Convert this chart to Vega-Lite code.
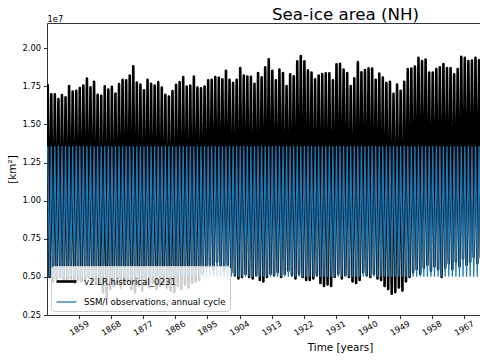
{
"$schema": "https://vega.github.io/schema/vega-lite/v6.json",
"width": 433, "height": 292,
"autosize": {"type": "none"},
"padding": {"left": 47, "top": 23, "right": 0, "bottom": 45},
"background": "white",
"config": {
 "font": "DejaVu Sans",
 "view": {"stroke": null},
 "axis": {"domainColor": "black", "domainWidth": 0.8, "tickColor": "black", "tickWidth": 0.8, "tickSize": 3.5, "labelColor": "black", "labelFontSize": 8.3, "titleColor": "black", "titleFontSize": 10.4, "titleFontWeight": "normal", "grid": false, "labelPadding": 3}
},
"title": {"text": "Sea-ice area (NH)", "anchor": "start", "frame": "group", "dx": 225, "fontSize": 16.7, "fontWeight": "normal", "color": "black", "baseline": "alphabetic", "offset": -23},
"data": {"values": [
{"t":1850.2,"model":1.764e7,"obs":1.355e7},{"t":1850.7,"model":5.0e6,"obs":5.05e6},
{"t":1851.2,"model":1.698e7,"obs":1.355e7},{"t":1851.7,"model":4.7e6,"obs":5.05e6},
{"t":1852.2,"model":1.698e7,"obs":1.355e7},{"t":1852.7,"model":4.9e6,"obs":5.05e6},
{"t":1853.2,"model":1.666e7,"obs":1.355e7},{"t":1853.7,"model":5.0e6,"obs":5.05e6},
{"t":1854.2,"model":1.692e7,"obs":1.355e7},{"t":1854.7,"model":4.7e6,"obs":5.05e6},
{"t":1855.2,"model":1.677e7,"obs":1.355e7},{"t":1855.7,"model":4.8e6,"obs":5.05e6},
{"t":1856.2,"model":1.752e7,"obs":1.355e7},{"t":1856.7,"model":4.9e6,"obs":5.05e6},
{"t":1857.2,"model":1.716e7,"obs":1.355e7},{"t":1857.7,"model":4.6e6,"obs":5.05e6},
{"t":1858.2,"model":1.72e7,"obs":1.355e7},{"t":1858.7,"model":4.8e6,"obs":5.05e6},
{"t":1859.2,"model":1.739e7,"obs":1.355e7},{"t":1859.7,"model":4.7e6,"obs":5.05e6},
{"t":1860.2,"model":1.755e7,"obs":1.355e7},{"t":1860.7,"model":4.8e6,"obs":5.05e6},
{"t":1861.2,"model":1.80e7,"obs":1.355e7},{"t":1861.7,"model":5.0e6,"obs":5.05e6},
{"t":1862.2,"model":1.744e7,"obs":1.355e7},{"t":1862.7,"model":4.7e6,"obs":5.05e6},
{"t":1863.2,"model":1.779e7,"obs":1.355e7},{"t":1863.7,"model":4.6e6,"obs":5.05e6},
{"t":1864.2,"model":1.694e7,"obs":1.355e7},{"t":1864.7,"model":4.5e6,"obs":5.05e6},
{"t":1865.2,"model":1.687e7,"obs":1.355e7},{"t":1865.7,"model":4.0e6,"obs":5.05e6},
{"t":1866.2,"model":1.75e7,"obs":1.355e7},{"t":1866.7,"model":3.7e6,"obs":5.05e6},
{"t":1867.2,"model":1.729e7,"obs":1.355e7},{"t":1867.7,"model":4.2e6,"obs":5.05e6},
{"t":1868.2,"model":1.746e7,"obs":1.355e7},{"t":1868.7,"model":4.4e6,"obs":5.05e6},
{"t":1869.2,"model":1.703e7,"obs":1.355e7},{"t":1869.7,"model":4.6e6,"obs":5.05e6},
{"t":1870.2,"model":1.764e7,"obs":1.355e7},{"t":1870.7,"model":4.3e6,"obs":5.05e6},
{"t":1871.2,"model":1.792e7,"obs":1.355e7},{"t":1871.7,"model":4.5e6,"obs":5.05e6},
{"t":1872.2,"model":1.79e7,"obs":1.355e7},{"t":1872.7,"model":4.7e6,"obs":5.05e6},
{"t":1873.2,"model":1.82e7,"obs":1.355e7},{"t":1873.7,"model":4.2e6,"obs":5.05e6},
{"t":1874.2,"model":1.881e7,"obs":1.355e7},{"t":1874.7,"model":4.0e6,"obs":5.05e6},
{"t":1875.2,"model":1.775e7,"obs":1.355e7},{"t":1875.7,"model":4.4e6,"obs":5.05e6},
{"t":1876.2,"model":1.762e7,"obs":1.355e7},{"t":1876.7,"model":4.1e6,"obs":5.05e6},
{"t":1877.2,"model":1.724e7,"obs":1.355e7},{"t":1877.7,"model":4.5e6,"obs":5.05e6},
{"t":1878.2,"model":1.792e7,"obs":1.355e7},{"t":1878.7,"model":4.3e6,"obs":5.05e6},
{"t":1879.2,"model":1.766e7,"obs":1.355e7},{"t":1879.7,"model":4.6e6,"obs":5.05e6},
{"t":1880.2,"model":1.755e7,"obs":1.355e7},{"t":1880.7,"model":4.2e6,"obs":5.05e6},
{"t":1881.2,"model":1.777e7,"obs":1.355e7},{"t":1881.7,"model":4.4e6,"obs":5.05e6},
{"t":1882.2,"model":1.742e7,"obs":1.355e7},{"t":1882.7,"model":4.6e6,"obs":5.05e6},
{"t":1883.2,"model":1.694e7,"obs":1.355e7},{"t":1883.7,"model":4.3e6,"obs":5.05e6},
{"t":1884.2,"model":1.683e7,"obs":1.355e7},{"t":1884.7,"model":4.1e6,"obs":5.05e6},
{"t":1885.2,"model":1.718e7,"obs":1.355e7},{"t":1885.7,"model":4.0e6,"obs":5.05e6},
{"t":1886.2,"model":1.759e7,"obs":1.355e7},{"t":1886.7,"model":4.4e6,"obs":5.05e6},
{"t":1887.2,"model":1.777e7,"obs":1.355e7},{"t":1887.7,"model":4.2e6,"obs":5.05e6},
{"t":1888.2,"model":1.811e7,"obs":1.355e7},{"t":1888.7,"model":4.5e6,"obs":5.05e6},
{"t":1889.2,"model":1.748e7,"obs":1.355e7},{"t":1889.7,"model":4.3e6,"obs":5.05e6},
{"t":1890.2,"model":1.755e7,"obs":1.355e7},{"t":1890.7,"model":4.6e6,"obs":5.05e6},
{"t":1891.2,"model":1.814e7,"obs":1.355e7},{"t":1891.7,"model":4.7e6,"obs":5.05e6},
{"t":1892.2,"model":1.742e7,"obs":1.355e7},{"t":1892.7,"model":4.8e6,"obs":5.05e6},
{"t":1893.2,"model":1.737e7,"obs":1.355e7},{"t":1893.7,"model":5.2e6,"obs":5.05e6},
{"t":1894.2,"model":1.748e7,"obs":1.355e7},{"t":1894.7,"model":5.6e6,"obs":5.05e6},
{"t":1895.2,"model":1.79e7,"obs":1.355e7},{"t":1895.7,"model":5.8e6,"obs":5.05e6},
{"t":1896.2,"model":1.792e7,"obs":1.355e7},{"t":1896.7,"model":5.5e6,"obs":5.05e6},
{"t":1897.2,"model":1.811e7,"obs":1.355e7},{"t":1897.7,"model":6.0e6,"obs":5.05e6},
{"t":1898.2,"model":1.805e7,"obs":1.355e7},{"t":1898.7,"model":5.7e6,"obs":5.05e6},
{"t":1899.2,"model":1.796e7,"obs":1.355e7},{"t":1899.7,"model":5.4e6,"obs":5.05e6},
{"t":1900.2,"model":1.851e7,"obs":1.355e7},{"t":1900.7,"model":5.8e6,"obs":5.05e6},
{"t":1901.2,"model":1.792e7,"obs":1.355e7},{"t":1901.7,"model":5.3e6,"obs":5.05e6},
{"t":1902.2,"model":1.772e7,"obs":1.355e7},{"t":1902.7,"model":5.1e6,"obs":5.05e6},
{"t":1903.2,"model":1.792e7,"obs":1.355e7},{"t":1903.7,"model":4.9e6,"obs":5.05e6},
{"t":1904.2,"model":1.87e7,"obs":1.355e7},{"t":1904.7,"model":5.0e6,"obs":5.05e6},
{"t":1905.2,"model":1.82e7,"obs":1.355e7},{"t":1905.7,"model":5.2e6,"obs":5.05e6},
{"t":1906.2,"model":1.814e7,"obs":1.355e7},{"t":1906.7,"model":5.0e6,"obs":5.05e6},
{"t":1907.2,"model":1.812e7,"obs":1.355e7},{"t":1907.7,"model":4.9e6,"obs":5.05e6},
{"t":1908.2,"model":1.766e7,"obs":1.355e7},{"t":1908.7,"model":5.1e6,"obs":5.05e6},
{"t":1909.2,"model":1.837e7,"obs":1.355e7},{"t":1909.7,"model":4.8e6,"obs":5.05e6},
{"t":1910.2,"model":1.809e7,"obs":1.355e7},{"t":1910.7,"model":4.7e6,"obs":5.05e6},
{"t":1911.2,"model":1.875e7,"obs":1.355e7},{"t":1911.7,"model":5.0e6,"obs":5.05e6},
{"t":1912.2,"model":1.927e7,"obs":1.355e7},{"t":1912.7,"model":5.2e6,"obs":5.05e6},
{"t":1913.2,"model":1.851e7,"obs":1.355e7},{"t":1913.7,"model":5.1e6,"obs":5.05e6},
{"t":1914.2,"model":1.79e7,"obs":1.355e7},{"t":1914.7,"model":5.3e6,"obs":5.05e6},
{"t":1915.2,"model":1.859e7,"obs":1.355e7},{"t":1915.7,"model":5.0e6,"obs":5.05e6},
{"t":1916.2,"model":1.837e7,"obs":1.355e7},{"t":1916.7,"model":5.2e6,"obs":5.05e6},
{"t":1917.2,"model":1.752e7,"obs":1.355e7},{"t":1917.7,"model":5.4e6,"obs":5.05e6},
{"t":1918.2,"model":1.829e7,"obs":1.355e7},{"t":1918.7,"model":5.1e6,"obs":5.05e6},
{"t":1919.2,"model":1.816e7,"obs":1.355e7},{"t":1919.7,"model":4.9e6,"obs":5.05e6},
{"t":1920.2,"model":1.914e7,"obs":1.355e7},{"t":1920.7,"model":5.2e6,"obs":5.05e6},
{"t":1921.2,"model":1.948e7,"obs":1.355e7},{"t":1921.7,"model":5.0e6,"obs":5.05e6},
{"t":1922.2,"model":1.914e7,"obs":1.355e7},{"t":1922.7,"model":4.8e6,"obs":5.05e6},
{"t":1923.2,"model":1.855e7,"obs":1.355e7},{"t":1923.7,"model":4.8e6,"obs":5.05e6},
{"t":1924.2,"model":1.84e7,"obs":1.355e7},{"t":1924.7,"model":4.9e6,"obs":5.05e6},
{"t":1925.2,"model":1.796e7,"obs":1.355e7},{"t":1925.7,"model":5.1e6,"obs":5.05e6},
{"t":1926.2,"model":1.82e7,"obs":1.355e7},{"t":1926.7,"model":4.6e6,"obs":5.05e6},
{"t":1927.2,"model":1.831e7,"obs":1.355e7},{"t":1927.7,"model":4.4e6,"obs":5.05e6},
{"t":1928.2,"model":1.835e7,"obs":1.355e7},{"t":1928.7,"model":4.5e6,"obs":5.05e6},
{"t":1929.2,"model":1.835e7,"obs":1.355e7},{"t":1929.7,"model":4.4e6,"obs":5.05e6},
{"t":1930.2,"model":1.79e7,"obs":1.355e7},{"t":1930.7,"model":5.0e6,"obs":5.05e6},
{"t":1931.2,"model":1.894e7,"obs":1.355e7},{"t":1931.7,"model":5.2e6,"obs":5.05e6},
{"t":1932.2,"model":1.898e7,"obs":1.355e7},{"t":1932.7,"model":4.9e6,"obs":5.05e6},
{"t":1933.2,"model":1.859e7,"obs":1.355e7},{"t":1933.7,"model":5.1e6,"obs":5.05e6},
{"t":1934.2,"model":1.837e7,"obs":1.355e7},{"t":1934.7,"model":5.0e6,"obs":5.05e6},
{"t":1935.2,"model":1.752e7,"obs":1.355e7},{"t":1935.7,"model":4.7e6,"obs":5.05e6},
{"t":1936.2,"model":1.802e7,"obs":1.355e7},{"t":1936.7,"model":4.6e6,"obs":5.05e6},
{"t":1937.2,"model":1.909e7,"obs":1.355e7},{"t":1937.7,"model":4.8e6,"obs":5.05e6},
{"t":1938.2,"model":1.842e7,"obs":1.355e7},{"t":1938.7,"model":5.3e6,"obs":5.05e6},
{"t":1939.2,"model":1.857e7,"obs":1.355e7},{"t":1939.7,"model":5.1e6,"obs":5.05e6},
{"t":1940.2,"model":1.868e7,"obs":1.355e7},{"t":1940.7,"model":5.0e6,"obs":5.05e6},
{"t":1941.2,"model":1.866e7,"obs":1.355e7},{"t":1941.7,"model":5.2e6,"obs":5.05e6},
{"t":1942.2,"model":1.792e7,"obs":1.355e7},{"t":1942.7,"model":4.9e6,"obs":5.05e6},
{"t":1943.2,"model":1.833e7,"obs":1.355e7},{"t":1943.7,"model":4.8e6,"obs":5.05e6},
{"t":1944.2,"model":1.807e7,"obs":1.355e7},{"t":1944.7,"model":4.4e6,"obs":5.05e6},
{"t":1945.2,"model":1.772e7,"obs":1.355e7},{"t":1945.7,"model":4.2e6,"obs":5.05e6},
{"t":1946.2,"model":1.779e7,"obs":1.355e7},{"t":1946.7,"model":3.9e6,"obs":5.05e6},
{"t":1947.2,"model":1.70e7,"obs":1.355e7},{"t":1947.7,"model":4.0e6,"obs":5.05e6},
{"t":1948.2,"model":1.762e7,"obs":1.355e7},{"t":1948.7,"model":4.3e6,"obs":5.05e6},
{"t":1949.2,"model":1.72e7,"obs":1.355e7},{"t":1949.7,"model":4.1e6,"obs":5.05e6},
{"t":1950.2,"model":1.779e7,"obs":1.355e7},{"t":1950.7,"model":4.7e6,"obs":5.05e6},
{"t":1951.2,"model":1.863e7,"obs":1.355e7},{"t":1951.7,"model":5.0e6,"obs":5.05e6},
{"t":1952.2,"model":1.866e7,"obs":1.355e7},{"t":1952.7,"model":5.3e6,"obs":5.05e6},
{"t":1953.2,"model":1.879e7,"obs":1.355e7},{"t":1953.7,"model":5.5e6,"obs":5.05e6},
{"t":1954.2,"model":1.936e7,"obs":1.355e7},{"t":1954.7,"model":5.2e6,"obs":5.05e6},
{"t":1955.2,"model":1.916e7,"obs":1.355e7},{"t":1955.7,"model":5.6e6,"obs":5.05e6},
{"t":1956.2,"model":1.925e7,"obs":1.355e7},{"t":1956.7,"model":5.8e6,"obs":5.05e6},
{"t":1957.2,"model":1.84e7,"obs":1.355e7},{"t":1957.7,"model":5.4e6,"obs":5.05e6},
{"t":1958.2,"model":1.84e7,"obs":1.355e7},{"t":1958.7,"model":5.7e6,"obs":5.05e6},
{"t":1959.2,"model":1.863e7,"obs":1.355e7},{"t":1959.7,"model":5.5e6,"obs":5.05e6},
{"t":1960.2,"model":1.875e7,"obs":1.355e7},{"t":1960.7,"model":5.0e6,"obs":5.05e6},
{"t":1961.2,"model":1.896e7,"obs":1.355e7},{"t":1961.7,"model":5.6e6,"obs":5.05e6},
{"t":1962.2,"model":1.87e7,"obs":1.355e7},{"t":1962.7,"model":5.9e6,"obs":5.05e6},
{"t":1963.2,"model":1.87e7,"obs":1.355e7},{"t":1963.7,"model":5.5e6,"obs":5.05e6},
{"t":1964.2,"model":1.829e7,"obs":1.355e7},{"t":1964.7,"model":6.0e6,"obs":5.05e6},
{"t":1965.2,"model":1.863e7,"obs":1.355e7},{"t":1965.7,"model":5.7e6,"obs":5.05e6},
{"t":1966.2,"model":1.944e7,"obs":1.355e7},{"t":1966.7,"model":6.2e6,"obs":5.05e6},
{"t":1967.2,"model":1.936e7,"obs":1.355e7},{"t":1967.7,"model":5.8e6,"obs":5.05e6},
{"t":1968.2,"model":1.916e7,"obs":1.355e7},{"t":1968.7,"model":6.0e6,"obs":5.05e6},
{"t":1969.2,"model":1.918e7,"obs":1.355e7},{"t":1969.7,"model":6.3e6,"obs":5.05e6},
{"t":1970.2,"model":1.936e7,"obs":1.355e7},{"t":1970.7,"model":5.9e6,"obs":5.05e6},
{"t":1971.2,"model":1.92e7,"obs":1.355e7},{"t":1971.7,"model":6.2e6,"obs":5.05e6}
]},
"layer": [
 {"mark": {"type": "line", "strokeJoin": "round", "clip": true},
  "encoding": {
   "x": {"field": "t", "type": "quantitative", "scale": {"domain": [1850, 1971.46], "nice": false, "zero": false},
         "axis": {"orient": "bottom", "values": [1859,1868,1877,1886,1895,1904,1913,1922,1931,1940,1949,1958,1967], "format": "d", "labelAngle": -30, "labelAlign": "center", "labelBaseline": "middle", "labelPadding": 10, "labelFlush": false, "labelOverlap": false, "title": "Time [years]", "titleX": 293, "titleY": 35.5, "titleAlign": "center", "titleBaseline": "alphabetic"}},
   "y": {"field": "model", "type": "quantitative", "scale": {"domain": [2500000, 21650000], "nice": false, "zero": false},
         "axis": {"values": [2500000,5000000,7500000,10000000,12500000,15000000,17500000,20000000], "labelExpr": "format(datum.value/1e7, '.2f')", "title": "[km²]", "titlePadding": 5}},
   "color": {"datum": "v2.LR.historical_0231", "scale": {"domain": ["v2.LR.historical_0231", "SSM/I observations, annual cycle"], "range": ["#000000", "#1f77b4"]},
             "legend": {"orient": "bottom-left", "offset": 4, "title": null, "fillColor": "rgba(255,255,255,0.8)", "strokeColor": "#cccccc", "cornerRadius": 3, "padding": 4, "symbolType": "stroke", "symbolSize": 400, "labelFontSize": 8.6, "labelColor": "black", "labelLimit": 300, "rowPadding": 4, "labelOffset": 6}},
   "strokeWidth": {"datum": "v2.LR.historical_0231", "scale": {"domain": ["v2.LR.historical_0231", "SSM/I observations, annual cycle"], "range": [2.6, 1.3]}}
  }},
 {"mark": {"type": "line", "strokeJoin": "round", "clip": true},
  "encoding": {
   "x": {"field": "t", "type": "quantitative",
         "axis": {"orient": "top", "labels": false, "ticks": false, "domain": true, "title": "1e7", "titleX": 0, "titleY": -2, "titleAlign": "left", "titleBaseline": "alphabetic", "titleFontSize": 8.3, "titleAngle": 0}},
   "y": {"field": "obs", "type": "quantitative", "axis": {"title": "[km²]"}},
   "color": {"datum": "SSM/I observations, annual cycle"},
   "strokeWidth": {"datum": "SSM/I observations, annual cycle"}
  }}
],
"resolve": {"axis": {"x": "independent"}}
}
